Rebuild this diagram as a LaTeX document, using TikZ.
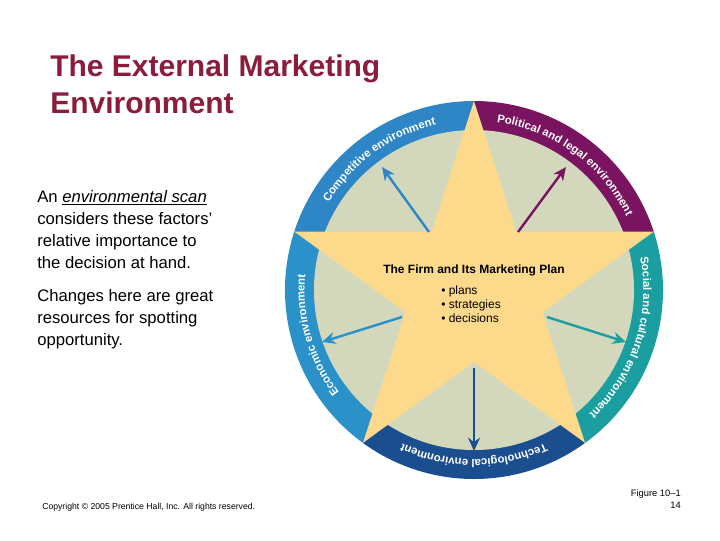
\documentclass[tikz,border=0pt]{standalone}
\usepackage{fontspec}
\setmainfont{Liberation Sans}
\setsansfont{Liberation Sans}
\usetikzlibrary{decorations.text,calc,arrows.meta}
\definecolor{ttl}{HTML}{8C1C3C}
\definecolor{cComp}{HTML}{2F86C6}
\definecolor{cPol}{HTML}{7A1460}
\definecolor{cSoc}{HTML}{1A9EA0}
\definecolor{cTech}{HTML}{1B4E8E}
\definecolor{cEco}{HTML}{2A92C8}
\definecolor{disc}{HTML}{D3D8BD}
\definecolor{starc}{HTML}{FDD98C}
\begin{document}
\begin{tikzpicture}[x=0.75pt,y=0.75pt,
  body/.style={anchor=north west,align=left,font=\fontsize{12.5}{16.5}\selectfont,inner sep=0},
  arr/.style={line width=1.8pt,-{Stealth[length=10pt,width=9pt]}},
  bandtxt/.style={decorate,decoration={text along path,text align=center,
     text={|\color{white}\bfseries\fontsize{8.5}{10}\selectfont|#1}}}]
\useasboundingbox (0,0) rectangle (720,-540);
\coordinate (C) at (474,-290);
% ring sectors
\foreach \a/\b/\c in {90/162/cComp,18/90/cPol,-54/18/cSoc,-126/-54/cTech,162/234/cEco}{
  \fill[\c] (C) -- ($(C)+(\a:141.75pt)$) arc[start angle=\a,end angle=\b,radius=141.75pt] -- cycle;
}
\fill[disc] (C) circle[radius=120pt];
% star
\fill[starc] ($(C)+(90:141.75pt)$)
  \foreach \k in {0,...,4}{ -- ($(C)+(54-72*\k:54pt)$) -- ($(C)+(18-72*\k:141.75pt)$)} -- cycle;
% band texts
\path[bandtxt={Competitive environment}] ($(C)+(161:127pt)$) arc[start angle=161,end angle=91,radius=127pt];
\path[bandtxt={Political and legal environment}] ($(C)+(89:127pt)$) arc[start angle=89,end angle=19,radius=127pt];
\path[bandtxt={Social and cultural environment}] ($(C)+(17:127pt)$) arc[start angle=17,end angle=-53,radius=127pt];
\path[bandtxt={Technological environment}] ($(C)+(-57:127pt)$) arc[start angle=-57,end angle=-123,radius=127pt];
\path[bandtxt={Economic environment}] ($(C)+(-128:127pt)$) arc[start angle=-128,end angle=-200,radius=127pt];
% arrows
\coordinate (a1) at (429,-232); \coordinate (b1) at (382,-167);
\coordinate (a2) at (518,-232); \coordinate (b2) at (566,-167);
\coordinate (a3) at (547,-317); \coordinate (b3) at (626,-342);
\coordinate (a4) at (402,-317); \coordinate (b4) at (322,-342);
\coordinate (a5) at (474,-368); \coordinate (b5) at (474,-451);
\draw[arr,cComp] (a1) -- (b1);
\draw[arr,cPol] (a2) -- (b2);
\draw[arr,cSoc] (a3) -- (b3);
\draw[arr,cEco] (a4) -- (b4);
\draw[arr,cTech] (a5) -- (b5);
% star text
\node[font=\bfseries\fontsize{9}{10}\selectfont] (firm) at (474,-270) {The Firm and Its Marketing Plan};
\node[anchor=north west,align=left,inner sep=0,font=\fontsize{9}{10.5}\selectfont] (bul) at (441,-286)
  {\textbullet\ plans\\\textbullet\ strategies\\\textbullet\ decisions};
% title and texts
\node[anchor=north west,align=left,inner sep=0,text=ttl,font=\bfseries\fontsize{22.5}{28}\selectfont] (title) at (50,-54)
  {The External Marketing\\Environment};
\node[body] (p1) at (37,-190) {An \underline{\textit{environmental scan}}\\considers these factors’\\relative importance to\\the decision at hand.};
\node[body] (p2) at (37,-289) {Changes here are great\\resources for spotting\\opportunity.};
\node[anchor=west,inner sep=0,font=\fontsize{6.5}{8}\selectfont] (copy) at (42,-507) {Copyright © 2005 Prentice Hall, Inc. All rights reserved.};
\node[anchor=north east,align=right,inner sep=0,font=\fontsize{7}{9}\selectfont] (fig) at (681,-489) {Figure 10–1\\14};
\end{tikzpicture}
\end{document}
